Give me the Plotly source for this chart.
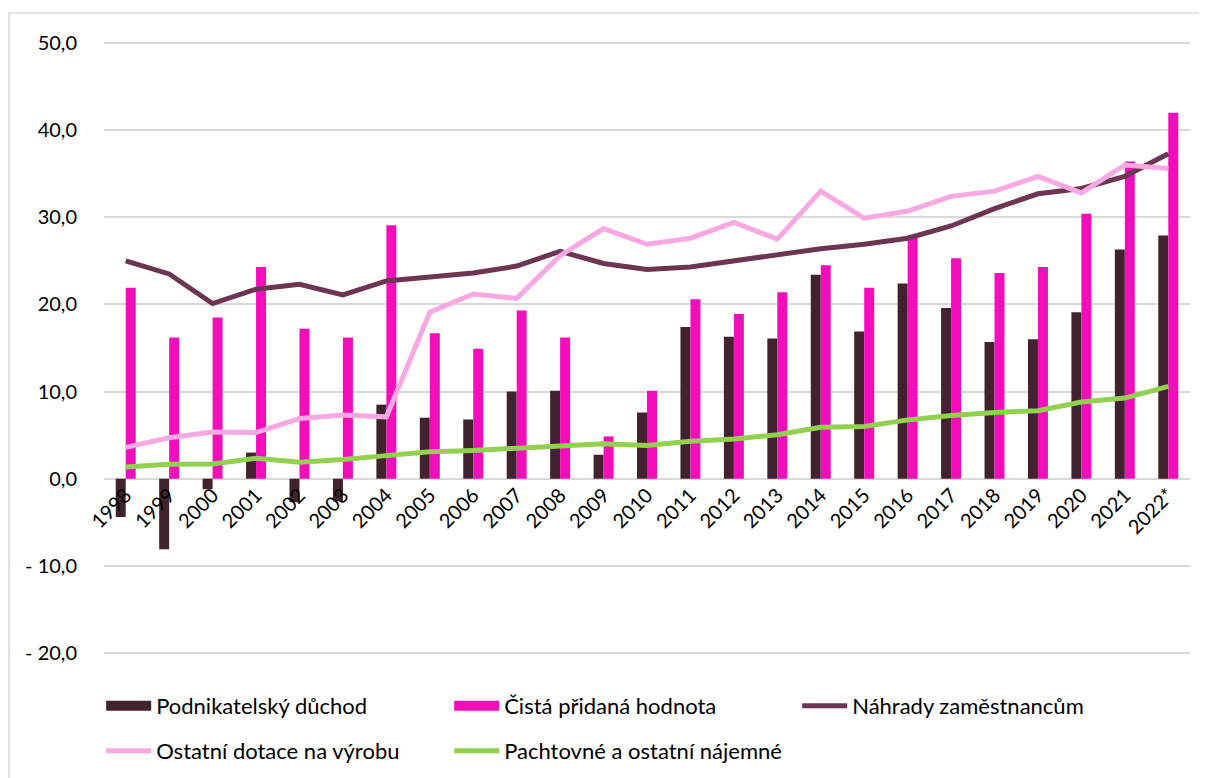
import plotly.graph_objects as go

years = ["1998", "1999", "2000", "2001", "2002", "2003", "2004", "2005", "2006",
         "2007", "2008", "2009", "2010", "2011", "2012", "2013", "2014", "2015",
         "2016", "2017", "2018", "2019", "2020", "2021", "2022*"]

podnikatelsky_duchod = [-4.4, -8.1, -1.2, 3.0, -2.7, -2.6, 8.5, 7.0, 6.8, 10.0, 10.1, 2.75,
                        7.6, 17.4, 16.3, 16.1, 23.4, 16.9, 22.4, 19.6, 15.7, 16.0, 19.1, 26.3, 27.9]
cista_pridana_hodnota = [21.9, 16.2, 18.5, 24.3, 17.2, 16.2, 29.1, 16.7, 14.9, 19.3, 16.2, 4.85,
                         10.1, 20.6, 18.9, 21.4, 24.5, 21.9, 27.9, 25.3, 23.6, 24.3, 30.4, 36.4, 42.0]
nahrady_zamestnancum = [25.0, 23.5, 20.1, 21.75, 22.3, 21.1, 22.7, 23.2, 23.6, 24.4, 26.1, 24.7,
                        24.0, 24.3, 25.0, 25.8, 26.4, 26.9, 27.6, 29.0, 31.0, 32.7, 33.3, 34.7, 37.3]
ostatni_dotace = [3.6, 4.7, 5.35, 5.3, 6.9, 7.3, 7.1, 19.1, 21.2, 20.7, 25.6, 28.7,
                  26.9, 27.6, 29.4, 27.5, 33.0, 29.9, 30.7, 32.4, 33.0, 34.7, 32.8, 36.0, 35.6]
pachtovne = [1.35, 1.65, 1.7, 2.35, 1.9, 2.2, 2.65, 3.1, 3.25, 3.5, 3.65, 4.0,
             3.8, 4.3, 4.55, 5.05, 5.9, 6.0, 6.75, 7.25, 7.6, 7.8, 8.8, 9.25, 10.6]

y_tickvals = [-20, -10, 0, 10, 20, 30, 40, 50]
y_ticktext = ["- 20,0", "- 10,0", "0,0", "10,0", "20,0", "30,0", "40,0", "50,0"]

FONT = "Lato"
FS = 20
C_PD = "#43222F"
C_CPH = "#F40DBA"

fig = go.Figure()
fig.add_trace(go.Bar(x=years, y=podnikatelsky_duchod, name="Podnikatelský důchod",
                     marker=dict(color=C_PD, line=dict(width=0)), showlegend=False))
fig.add_trace(go.Bar(x=years, y=cista_pridana_hodnota, name="Čistá přidaná hodnota",
                     marker=dict(color=C_CPH, line=dict(width=0)), showlegend=False))
# legend-only entries drawn as wide rectangles, like the reference's bar keys
fig.add_trace(go.Scatter(x=[None], y=[None], name="Podnikatelský důchod", mode="lines",
                         line=dict(color=C_PD, width=13), legend="legend"))
fig.add_trace(go.Scatter(x=[None], y=[None], name="Čistá přidaná hodnota", mode="lines",
                         line=dict(color=C_CPH, width=13), legend="legend"))
fig.add_trace(go.Scatter(x=years, y=nahrady_zamestnancum, name="Náhrady zaměstnancům",
                         mode="lines", line=dict(color="#6E3553", width=5), legend="legend"))
fig.add_trace(go.Scatter(x=years, y=ostatni_dotace, name="Ostatní dotace na výrobu",
                         mode="lines", line=dict(color="#F9A8E2", width=5), legend="legend2"))
fig.add_trace(go.Scatter(x=years, y=pachtovne, name="Pachtovné a ostatní nájemné",
                         mode="lines", line=dict(color="#92D050", width=5), legend="legend2"))

legend_common = dict(orientation="h", xanchor="left", yanchor="middle",
                     font=dict(family=FONT, size=22, color="#000000"),
                     bgcolor="rgba(0,0,0,0)", itemwidth=45,
                     entrywidth=288, entrywidthmode="pixels", traceorder="normal")

# page body has an 8px margin, so the figure is sized/offset to compensate
PLOT_TOP, PLOT_BOT, PLOT_L, PLOT_R = 41, 655, 104, 1190
H = PLOT_BOT - PLOT_TOP
W = PLOT_R - PLOT_L

fig.update_layout(
    width=1199, height=770,
    margin=dict(l=PLOT_L - 8, r=1207 - PLOT_R, t=PLOT_TOP - 8, b=778 - PLOT_BOT, autoexpand=False),
    paper_bgcolor="white", plot_bgcolor="white",
    barmode="group", bargap=0.54, bargroupgap=0,
    font=dict(family=FONT, size=FS, color="#000000"),
    legend=dict(x=-0.0026, y=(PLOT_BOT - 706) / H, **legend_common),
    legend2=dict(x=-0.0026, y=(PLOT_BOT - 751) / H, **legend_common),
    xaxis=dict(type="category", anchor="free", position=20.23 / 70.46, tickangle=-45,
               showgrid=False, showline=False, ticks="", zeroline=False,
               tickfont=dict(family=FONT, size=FS, color="#000000")),
    yaxis=dict(range=[-20.23, 50.23], tickvals=y_tickvals, ticktext=y_ticktext,
               showgrid=True, gridcolor="#D9D9D9", gridwidth=1.5, zeroline=False,
               showline=False, ticks="outside", ticklen=22, tickcolor="rgba(0,0,0,0)",
               tickfont=dict(family=FONT, size=FS, color="#000000")),
    shapes=[dict(type="rect", xref="paper", yref="paper",
                 x0=(9 - PLOT_L) / W, x1=(1215 - PLOT_L) / W,
                 y0=(PLOT_BOT - 800) / H, y1=(PLOT_BOT - 13) / H,
                 line=dict(color="#D9D9D9", width=1.5), fillcolor="rgba(0,0,0,0)",
                 layer="below")],
)

fig.write_html("out.html")
